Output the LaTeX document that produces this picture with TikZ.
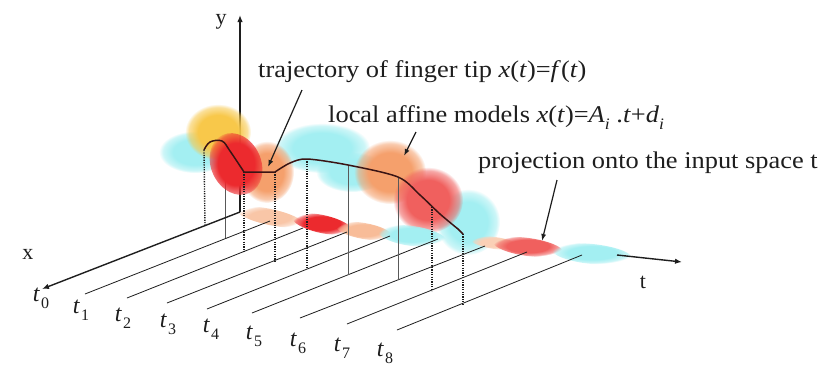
\documentclass[tikz,border=0pt]{standalone}
\usepackage{fontspec}
\setmainfont{Liberation Serif}
\usetikzlibrary{arrows.meta,fadings}
\pgfdeclareradialshading{softblobshade}{\pgfpointorigin}{color(0bp)=(pgftransparent!0); color(15bp)=(pgftransparent!0); color(22bp)=(pgftransparent!45); color(25bp)=(pgftransparent!100); color(50bp)=(pgftransparent!100)}
\pgfdeclarefading{softblob}{\pgfuseshading{softblobshade}}
\definecolor{trajc}{HTML}{3A1414}
\definecolor{cyanb}{HTML}{A3EFF2}
\definecolor{yellowb}{HTML}{F8C84A}
\definecolor{orangeb}{HTML}{F5A06C}
\definecolor{redb}{HTML}{EC2A2E}
\definecolor{pinkb}{HTML}{F0605E}
\definecolor{inkc}{HTML}{1E1E1E}
\begin{document}
\begin{tikzpicture}[x=1pt,y=-1pt,
  axis/.style={line width=1.4pt,inkc,-{Latex[length=7pt,width=5.5pt]}},
  tline/.style={line width=0.8pt,inkc},
  drop/.style={line width=1.4pt,inkc,dash pattern=on 1.2pt off 1.2pt},
  thindrop/.style={line width=0.7pt,black!65},
  traj/.style={line width=1.5pt,trajc,line join=round},
  blob/.style={path fading=softblob},
  lbl/.style={font=\fontsize{24}{28}\selectfont,text=inkc,xscale=1.1,anchor=base west,inner sep=0pt},
  axlbl/.style={font=\fontsize{22}{26}\selectfont,text=inkc,inner sep=0pt},
  tlab/.style={font=\fontsize{24}{28}\selectfont\itshape,text=inkc,inner sep=0pt},
  ptr/.style={line width=1.2pt,inkc,-{Latex[length=7pt,width=5pt]}}
]
\useasboundingbox (0,0) rectangle (823,368);
\fill[white] (0,0) rectangle (823,368);

% origin and axes
\coordinate (O) at (240,212);
\coordinate (ytip) at (240,15);
\coordinate (xtip) at (42,289);
\coordinate (tstart) at (617,255);
\coordinate (ttip) at (682,262);

% drop points: top on curve / bottom on t_i lines
\foreach \i/\tx/\ty/\bx/\by in {0/204/150/205/226, 1/225/142/225/239, 2/244/172/244/252,
  3/275/172/275/261, 4/307/159/307/269, 5/348/165/348/275, 6/398/177/398/280,
  7/432/207/432/291, 8/463/234/463/304}{
  \coordinate (dt\i) at (\tx,\ty);
  \coordinate (db\i) at (\bx,\by);
}

% y axis and hidden thin drop (under the blobs)
\draw[axis] (O) -- (ytip);
\draw[thindrop] (dt1) -- (db1);

% upper blobs
\fill[cyanb,blob] (195,152) ellipse (36pt and 21pt);
\fill[cyanb,blob] (322,148) ellipse (48pt and 25pt);
\fill[cyanb,blob] (352,172) ellipse (36pt and 20pt);
\fill[cyanb,blob] (468,222) ellipse (32pt and 33pt);
\fill[yellowb,blob] (218,132) ellipse (33pt and 28pt);
\fill[orangeb,blob] (267,172) ellipse (27pt and 31pt);
\fill[redb,blob,rotate around={25:(236,164)}] (236,164) ellipse (25pt and 32pt);
\fill[orangeb,blob] (390,172) ellipse (36pt and 32pt);
\fill[pinkb,blob] (428,200) ellipse (35pt and 33pt);

% projection blobs along t
\fill[orangeb!60,blob,rotate around={-12:(270,217)}] (270,217) ellipse (34pt and 8pt);
\fill[redb,blob,rotate around={-12:(322,224)}] (322,224) ellipse (30pt and 9pt);
\fill[orangeb!70,blob,rotate around={-10:(364,231)}] (364,231) ellipse (28pt and 8pt);
\fill[cyanb,blob,rotate around={-8:(412,236)}] (412,236) ellipse (34pt and 10pt);
\fill[orangeb!50,blob,rotate around={-8:(495,243)}] (495,243) ellipse (24pt and 6pt);
\fill[pinkb,blob,rotate around={-8:(528,247)}] (528,247) ellipse (35pt and 9pt);
\fill[cyanb,blob,rotate around={-6:(592,254)}] (592,254) ellipse (40pt and 10pt);

% x axis (t_0 line) and t_i lines
\draw[axis] (O) -- (xtip);
\foreach \i/\ax/\ay/\bx/\by in {1/85/294/270/221, 2/127/298/303/228, 3/167/303/347/232,
  4/207/309/390/236, 5/252/313/438/239, 6/300/318/485/246, 7/347/324/527/252, 8/397/330/582/255}{
  \coordinate (la\i) at (\ax,\ay);
  \coordinate (lb\i) at (\bx,\by);
  \draw[tline] (la\i) -- (lb\i);
}
\draw[axis] (tstart) -- (ttip);

% drops over the blobs
\foreach \i in {0,2,3,4,7,8}{ \draw[drop] (dt\i) -- (db\i); }
\foreach \i in {5,6}{ \draw[thindrop] (dt\i) -- (db\i); }

% trajectory
\draw[traj] plot[smooth,tension=0.6] coordinates {(204,150) (210,142) (222,141) (230,151) (244,172)}
  -- (275,172)
  -- plot[smooth,tension=0.5] coordinates {(275,172) (290,163) (307,159) (348,165) (398,177) (420,195) (440,214) (458,229)}
  -- (463,234);

% axis labels
\node[axlbl] (ylab) at (221,22) {y};
\node[axlbl] (xlab) at (28,254) {x};
\node[axlbl] (tlabel) at (643,282) {t};

% t_i labels
\foreach \i/\x/\y in {0/41/298, 1/81/310, 2/123/318, 3/168/324, 4/211/329,
  5/254/336, 6/298/343, 7/342/348, 8/385/353}{
  \node[tlab] (t\i) at (\x,\y) {t\kern1.5pt\raisebox{-0.3em}{\fontsize{16}{16}\selectfont\upshape\i}};
}

% text labels
\node[lbl] (trajlbl) at (258,77) {trajectory of finger tip \textit{x}(\textit{t})=\textit{f}(\textit{t})};
\node[lbl] (affinelbl) at (328,122) {local affine models \textit{x}(\textit{t})=\textit{A}\raisebox{-0.3em}{\fontsize{16}{16}\selectfont\itshape i} .\textit{t}+\textit{d}\raisebox{-0.3em}{\fontsize{16}{16}\selectfont\itshape i}};
\node[lbl] (projlbl) at (478,168) {projection onto the input space t};

% pointers
\coordinate (p1s) at (302,90);
\coordinate (p1e) at (268,167);
\coordinate (p2s) at (416,132);
\coordinate (p2e) at (404,156);
\coordinate (p3s) at (557,180);
\coordinate (p3e) at (542,241);
\draw[ptr] (p1s) -- (p1e);
\draw[ptr] (p2s) -- (p2e);
\draw[ptr] (p3s) -- (p3e);
\end{tikzpicture}
\end{document}
